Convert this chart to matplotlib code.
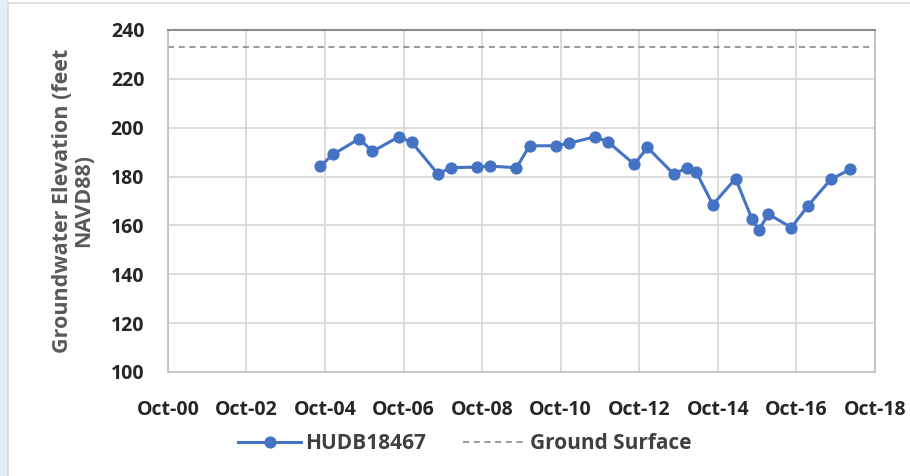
import pandas as pd
import matplotlib
matplotlib.use('Agg')
import matplotlib.pyplot as plt
import matplotlib.dates as mdates
from matplotlib.patches import Rectangle

# 监测日期与地下水位 (feet NAVD88)
dates = ['2004-08-15', '2004-12-15', '2005-08-15', '2005-12-15', '2006-08-15',
         '2006-12-15', '2007-08-15', '2007-12-15', '2008-08-15', '2008-12-15',
         '2009-08-15', '2009-12-15', '2010-08-15', '2010-12-15', '2011-08-15',
         '2011-12-15', '2012-08-15', '2012-12-15', '2013-08-15', '2013-12-15',
         '2014-03-15', '2014-08-15', '2015-03-15', '2015-08-15', '2015-10-15',
         '2016-01-15', '2016-08-15', '2017-01-15', '2017-08-15', '2018-02-15']
elevation = [184.2, 189.1, 195.5, 190.3, 196.2, 194.1, 181.1, 183.6, 183.9, 184.3,
             183.6, 192.6, 192.6, 193.6, 196.3, 194.2, 185.0, 191.9, 181.1, 183.4,
             181.8, 168.5, 179.2, 162.5, 158.1, 164.6, 159.1, 168.0, 178.8, 183.0]
ground_surface = 233.0
well_name = 'HUDB18467'

dates = pd.to_datetime(dates)
x_min = pd.Timestamp('2000-10-01')
x_max = pd.Timestamp('2018-10-01')
x_ticks = pd.date_range('2000-10-01', '2018-10-01', freq='24MS')

plt.rcParams['font.family'] = ['Open Sans', 'DejaVu Sans']

fig = plt.figure(figsize=(9.1, 4.76), dpi=100)
fig.patch.set_facecolor('white')
# 左侧幻灯片背景 + 图表边框
fig.patches.append(Rectangle((0, 0), 0.009, 1, transform=fig.transFigure,
                             facecolor='#e4edf2', edgecolor='none', zorder=0))
fig.patches.append(Rectangle((0.009, -0.01), 1, 1.003, transform=fig.transFigure,
                             facecolor='none', edgecolor='#d9d9d9', lw=1.2, zorder=1))

ax = fig.add_axes([0.1846, 0.2185, 0.7769, 0.7185])

ax.plot(dates, elevation, color='#4472C4', lw=2.2, marker='o', markersize=7.8,
        label=well_name, zorder=3)
ax.axhline(ground_surface, color='#7f7f7f', lw=1.1, ls=(0, (4, 3)),
           label='Ground Surface', zorder=2)

ax.set_xlim(x_min, x_max)
ax.set_ylim(100, 240)
ax.set_yticks(range(100, 241, 20))
ax.set_xticks(x_ticks)
ax.xaxis.set_major_formatter(mdates.DateFormatter('%b-%y'))

ax.grid(True, color='#d9d9d9', lw=1.3)
ax.set_axisbelow(True)
for s in ['left', 'bottom', 'right']:
    ax.spines[s].set_color('#bfbfbf')
    ax.spines[s].set_linewidth(1.2)
ax.spines['top'].set_color('#8c8c8c')
ax.spines['top'].set_linewidth(1.5)
ax.tick_params(length=0, labelsize=14, labelcolor='#262626')
ax.yaxis.set_tick_params(pad=17)
ax.xaxis.set_tick_params(pad=20)
for lbl in ax.get_xticklabels() + ax.get_yticklabels():
    lbl.set_fontweight('bold')

ax.set_ylabel('Groundwater Elevation (feet\nNAVD88)', fontsize=15.5, fontweight='bold',
              color='#595959', labelpad=12, linespacing=1.0)

leg = ax.legend(loc='upper center', bbox_to_anchor=(0.42, -0.125), ncol=2, frameon=False,
                fontsize=15, handlelength=3.0, columnspacing=1.8, handletextpad=0.2)
for t in leg.get_texts():
    t.set_fontweight('bold')
    t.set_color('#404040')

fig.canvas.draw()
print('ytick 240:', ax.get_yticklabels()[-1].get_window_extent())
print('ylabel:', ax.yaxis.label.get_window_extent())

fig.savefig('out.png', dpi=100)
